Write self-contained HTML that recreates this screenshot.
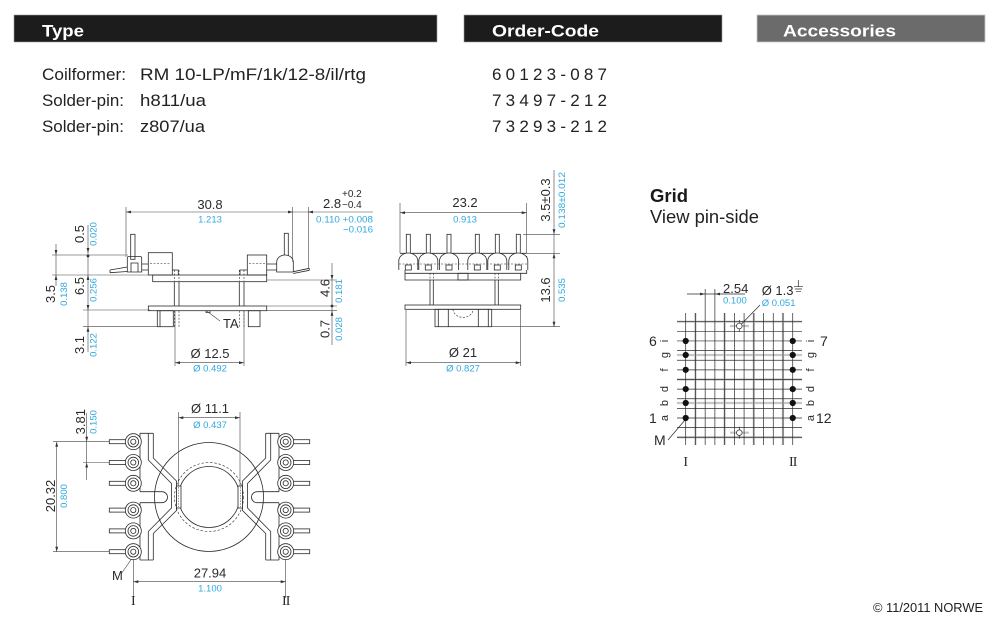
<!DOCTYPE html>
<html><head><meta charset="utf-8"><style>
html,body{margin:0;padding:0;background:#fff;}
svg{display:block;}
</style></head><body>
<svg width="1000" height="630" viewBox="0 0 1000 630" xmlns="http://www.w3.org/2000/svg" font-family="'Liberation Sans', Arial, sans-serif">
<rect width="1000" height="630" fill="#fff"/>

<!-- Header bars -->
<rect x="14" y="15" width="423" height="27" fill="#1c1c1c" stroke="#9a9a9a" stroke-width="0.6"/>
<rect x="464" y="15" width="258" height="27" fill="#1c1c1c" stroke="#9a9a9a" stroke-width="0.6"/>
<rect x="757" y="15" width="228" height="27" fill="#6b6b6b" stroke="#c8c8c8" stroke-width="0.8"/>
<text x="42" y="36.5" font-size="17" font-weight="bold" fill="#fff" textLength="42" lengthAdjust="spacingAndGlyphs">Type</text>
<text x="492" y="36.5" font-size="17" font-weight="bold" fill="#fff" textLength="107" lengthAdjust="spacingAndGlyphs">Order-Code</text>
<text x="783" y="36.5" font-size="17" font-weight="bold" fill="#fff" textLength="113" lengthAdjust="spacingAndGlyphs">Accessories</text>

<!-- Body text -->
<g font-size="17" fill="#222">
<text x="42" y="80" textLength="84" lengthAdjust="spacingAndGlyphs">Coilformer:</text>
<text x="140" y="80" textLength="226" lengthAdjust="spacingAndGlyphs">RM 10-LP/mF/1k/12-8/il/rtg</text>
<text x="42" y="106" textLength="82" lengthAdjust="spacingAndGlyphs">Solder-pin:</text>
<text x="140" y="106" textLength="66" lengthAdjust="spacingAndGlyphs">h811/ua</text>
<text x="42" y="132" textLength="82" lengthAdjust="spacingAndGlyphs">Solder-pin:</text>
<text x="140" y="132" textLength="65" lengthAdjust="spacingAndGlyphs">z807/ua</text>
<text x="492" y="80" textLength="115" lengthAdjust="spacing">60123-087</text>
<text x="492" y="106" textLength="115" lengthAdjust="spacing">73497-212</text>
<text x="492" y="132" textLength="115" lengthAdjust="spacing">73293-212</text>
</g>

<text x="650" y="202" font-size="18" font-weight="bold" fill="#1a1a1a" textLength="38" lengthAdjust="spacingAndGlyphs">Grid</text>
<text x="650" y="223" font-size="18" fill="#222" textLength="109" lengthAdjust="spacingAndGlyphs">View pin-side</text>

<text x="873" y="612" font-size="12.5" fill="#222" textLength="110" lengthAdjust="spacingAndGlyphs">© 11/2011 NORWE</text>

<!-- ================= Drawing 1: side view ================= -->
<g fill="none" stroke="#2a2a2a" stroke-width="0.8">
 <rect x="152.7" y="275" width="114" height="6.7"/>
 <rect x="148.3" y="252.7" width="24" height="22.3"/>
 <path d="M172.3,270 H178.3 V275"/>
 <rect x="247.3" y="255" width="19.4" height="20"/>
 <path d="M247.3,270 H240 V275"/>
 <rect x="130.7" y="234.3" width="4.3" height="25" fill="#fff"/>
 <path d="M127.3,272 V258 Q127.3,256.5 129,256.5 H140 Q141.7,256.5 141.7,258 V272 Z"/>
 <path d="M131,272 V263 H138 V272"/>
 <path d="M141.7,264 H148.3 M141.7,270 H148.3"/>
 <path d="M110,270 L127.3,267 M110,272.7 L127.3,271.5 M110,270 V272.7"/>
 <rect x="284.3" y="233.3" width="4" height="25" fill="#fff"/>
 <path d="M276.7,272 V262 A8.3,7 0 0 1 293.3,262 V272 Z" fill="#fff"/>
 <path d="M266.7,264 H276.7 M266.7,270 H276.7"/>
 <path d="M293.3,271.7 L309.3,268.3 M293.3,273.5 L309.3,270.3 M309.3,268.3 V270.3"/>
 <path d="M174.3,281.7 V306 M179,281.7 V306 M239.3,281.7 V306 M244,281.7 V306"/>
 <rect x="148.3" y="306" width="118.4" height="4.7"/>
 <rect x="157.3" y="310.7" width="16" height="16"/>
 <path d="M160,310.7 V326.7"/>
 <rect x="248.3" y="310.7" width="11.7" height="16"/>
 <path d="M206,310.7 V312.5 H210 V310.7"/>
</g>
<path fill="none" stroke="#2a2a2a" stroke-width="0.6" stroke-dasharray="2 1.5" d="M174.3,270 V281 M179,270 V281 M239.3,270 V281 M244,270 V281 M174.3,310.7 V326.7 M179,310.7 V326.7 M239.3,310.7 V326.7 M244,310.7 V326.7 M150,263.5 H170 M249,263.5 H265"/>

<g fill="none" stroke="#444" stroke-width="0.6">
 <path d="M126,212 H373"/>
 <path d="M126,207 V257 M292.7,207 V262 M308.3,207 V268"/>
 <path d="M52,255 H128" stroke="#999" stroke-width="1"/>
 <path d="M52,275 H152 M83,310 H150 M83,326.7 H157"/>
 <path d="M266.7,280 H337 M266.7,306 H337 M260,310.7 H337"/>
 <path d="M56,244 V286 M88,225 V352 M332,263 V345"/>
 <path d="M175,311 V366 M244,311 V366 M175,362.7 H244"/>
 <path d="M206.7,311 L220,321"/>
</g>
<g fill="#333">
 <polygon points="131,210.6 131,213.4 126,212"/>
 <polygon points="288,210.6 288,213.4 293,212"/>
 <polygon points="313,210.6 313,213.4 308,212"/>
 <polygon points="54.6,250 57.4,250 56,255"/>
 <polygon points="54.6,280 57.4,280 56,275"/>
 <polygon points="86.6,248 89.4,248 88,253"/>
 <circle cx="88" cy="256" r="1.4"/>
 <polygon points="86.6,280 89.4,280 88,275"/>
 <polygon points="86.6,305 89.4,305 88,310"/>
 <polygon points="86.6,331.7 89.4,331.7 88,326.7"/>
 <polygon points="330.6,275 333.4,275 332,280"/>
 <circle cx="332" cy="306" r="1.4"/>
 <polygon points="330.6,315.7 333.4,315.7 332,310.7"/>
 <polygon points="180,361.3 180,364.1 175,362.7"/>
 <polygon points="239,361.3 239,364.1 244,362.7"/>
</g>
<g font-size="13" fill="#2a2a2a">
 <text x="210" y="209" text-anchor="middle">30.8</text>
 <text x="323" y="208">2.8</text>
 <text x="342" y="197" font-size="10">+0.2</text>
 <text x="342" y="208" font-size="10">−0.4</text>
 <text x="210" y="358" text-anchor="middle">Ø 12.5</text>
 <text x="223" y="328">TA</text>
 <text transform="translate(55,294) rotate(-90)" text-anchor="middle">3.5</text>
 <text transform="translate(84,234) rotate(-90)" text-anchor="middle">0.5</text>
 <text transform="translate(84,286) rotate(-90)" text-anchor="middle">6.5</text>
 <text transform="translate(84,345) rotate(-90)" text-anchor="middle">3.1</text>
 <text transform="translate(329.5,288) rotate(-90)" text-anchor="middle">4.6</text>
 <text transform="translate(329.5,329) rotate(-90)" text-anchor="middle">0.7</text>
</g>
<g font-size="9.5" fill="#2fa8e0">
 <text x="210" y="222.5" text-anchor="middle">1.213</text>
 <text x="316" y="222.5" textLength="57" lengthAdjust="spacingAndGlyphs">0.110 +0.008</text>
 <text x="343" y="232.5" textLength="30" lengthAdjust="spacingAndGlyphs">−0.016</text>
 <text x="210" y="371.5" text-anchor="middle">Ø 0.492</text>
 <text transform="translate(67,294) rotate(-90)" text-anchor="middle">0.138</text>
 <text transform="translate(96.5,234) rotate(-90)" text-anchor="middle">0.020</text>
 <text transform="translate(96.5,290) rotate(-90)" text-anchor="middle">0.256</text>
 <text transform="translate(96.5,345) rotate(-90)" text-anchor="middle">0.122</text>
 <text transform="translate(342,291) rotate(-90)" text-anchor="middle">0.181</text>
 <text transform="translate(342,329) rotate(-90)" text-anchor="middle">0.028</text>
</g>

<!-- ================= Drawing 2: front view ================= -->
<g fill="none" stroke="#444" stroke-width="0.6">
 <path d="M400,203 V253 M526.7,203 V253 M400,212.7 H526.7"/>
 <path d="M523,234.3 H560 M526.7,253.3 H560 M491.7,326.7 H560"/>
 <path d="M554,170 V327"/>
 <path d="M406,310 V366 M520.7,310 V366 M406,362.7 H520.7"/>
</g>
<g fill="#333">
 <polygon points="405,211.3 405,214.1 400,212.7"/>
 <polygon points="521.7,211.3 521.7,214.1 526.7,212.7"/>
 <polygon points="552.6,229.3 555.4,229.3 554,234.3"/>
 <polygon points="552.6,258.3 555.4,258.3 554,253.3"/>
 <polygon points="552.6,321.7 555.4,321.7 554,326.7"/>
 <polygon points="411,361.3 411,364.1 406,362.7"/>
 <polygon points="515.7,361.3 515.7,364.1 520.7,362.7"/>
</g>
<g fill="none" stroke="#2a2a2a" stroke-width="0.8">
 <path d="M400,253.3 H526.7"/>
 <path d="M405,256 V280 H520.7 V273.3 H526.7 V256"/>
 <path d="M405,273.3 H520.7"/>
 <rect x="458" y="273.3" width="10" height="6.7"/>
 <g fill="#fff">
  <rect x="406.3" y="234.3" width="4" height="22"/>
  <rect x="426.3" y="234.3" width="4" height="22"/>
  <rect x="447" y="234.3" width="4" height="22"/>
  <rect x="475.3" y="234.3" width="4" height="22"/>
  <rect x="495.3" y="234.3" width="4" height="22"/>
  <rect x="516.3" y="234.3" width="4" height="22"/>
  <path d="M398.8,270 V261 A9.5,8 0 0 1 417.8,261 V270"/>
  <path d="M418.8,270 V261 A9.5,8 0 0 1 437.8,261 V270"/>
  <path d="M439.5,270 V261 A9.5,8 0 0 1 458.5,261 V270"/>
  <path d="M467.8,270 V261 A9.5,8 0 0 1 486.8,261 V270"/>
  <path d="M487.8,270 V261 A9.5,8 0 0 1 506.8,261 V270"/>
  <path d="M508.8,270 V261 A9.5,8 0 0 1 527.8,261 V270"/>
 </g>
 <rect x="405.3" y="265" width="6" height="5"/>
 <rect x="425.3" y="265" width="6" height="5"/>
 <rect x="446" y="265" width="6" height="5"/>
 <rect x="474.3" y="265" width="6" height="5"/>
 <rect x="494.3" y="265" width="6" height="5"/>
 <rect x="515.3" y="265" width="6" height="5"/>
 <path d="M430,280 V305 M433.3,280 V305 M495,280 V305 M498.3,280 V305"/>
 <rect x="405" y="305" width="115.7" height="4.3"/>
 <rect x="435" y="309.3" width="56.7" height="17.4"/>
 <path d="M438.3,309.3 V326.7 M448.3,309.3 V326.7 M478.3,309.3 V326.7 M488.3,309.3 V326.7"/>
</g>
<path fill="none" stroke="#2a2a2a" stroke-width="0.6" stroke-dasharray="2 1.5" d="M399,264 H527 M453,309.3 A10,8 0 0 0 473,309.3 M430,273 V280 M433.3,273 V280 M495,273 V280 M498.3,273 V280"/>
<g font-size="13" fill="#2a2a2a">
 <text x="465" y="207" text-anchor="middle">23.2</text>
 <text x="463" y="357" text-anchor="middle">Ø 21</text>
 <text transform="translate(550,200) rotate(-90)" text-anchor="middle">3.5±0.3</text>
 <text transform="translate(550,290) rotate(-90)" text-anchor="middle">13.6</text>
</g>
<g font-size="9.5" fill="#2fa8e0">
 <text x="465" y="222.5" text-anchor="middle">0.913</text>
 <text x="463" y="371.5" text-anchor="middle">Ø 0.827</text>
 <text transform="translate(565,200) rotate(-90)" text-anchor="middle" textLength="56" lengthAdjust="spacingAndGlyphs">0.138±0.012</text>
 <text transform="translate(565,290) rotate(-90)" text-anchor="middle">0.535</text>
</g>

<!-- ================= Drawing 3: grid ================= -->
<g stroke="#c6c6c6" stroke-width="2.2" fill="none">
 <path d="M677,321.7 H802 M677,355 H802 M677,379.5 H802 M677,403 H802 M677,437.3 H802"/>
 <path d="M695.4,313 V445 M724.6,313 V445 M753.8,313 V445 M783,313 V445"/>
 <path d="M730,326 H749 M730,432.7 H749"/>
</g>
<g stroke="#2a2a2a" stroke-width="0.7" fill="none">
 <path d="M685.7,313V445M695.43,313V445M705.16,313V445M714.89,313V445M724.62,313V445M734.35,313V445M744.08,313V445M753.81,313V445M763.54,313V445M773.27,313V445M783,313V445M792.73,313V445"/>
 <path d="M677,321.7H802M677,331.33H802M677,340.96H802M677,350.59H802M677,360.22H802M677,369.85H802M677,379.48H802M677,389.11H802M677,398.74H802M677,408.37H802M677,418H802M677,427.63H802M677,437.26H802"/>
 <path d="M687,294 H745"/>
 <path d="M705.16,289 V313 M714.89,289 V313"/>
 <path d="M760,305 L741.5,324"/>
 <path d="M668,440 L685,420"/>
 <path d="M739.3,320 V332 M739.3,426.7 V438.7"/>
 <path d="M798.3,280 V286.7 M794,286.7 H803 M795,289 H802 M796,291.3 H801"/>
</g>
<circle cx="739.3" cy="326" r="2.8" fill="#fff" stroke="#2a2a2a" stroke-width="0.7"/>
<circle cx="739.3" cy="432.7" r="2.8" fill="#fff" stroke="#2a2a2a" stroke-width="0.7"/>
<g fill="#333">
 <polygon points="700,292.6 700,295.4 705.16,294"/>
 <polygon points="720,292.6 720,295.4 714.89,294"/>
</g>
<g fill="#111">
 <circle cx="685.7" cy="341" r="3.1"/><circle cx="685.7" cy="355" r="3.1"/><circle cx="685.7" cy="369.85" r="3.1"/>
 <circle cx="685.7" cy="389.1" r="3.1"/><circle cx="685.7" cy="403" r="3.1"/><circle cx="685.7" cy="418" r="3.1"/>
 <circle cx="792.73" cy="341" r="3.1"/><circle cx="792.73" cy="355" r="3.1"/><circle cx="792.73" cy="369.85" r="3.1"/>
 <circle cx="792.73" cy="389.1" r="3.1"/><circle cx="792.73" cy="403" r="3.1"/><circle cx="792.73" cy="418" r="3.1"/>
</g>
<g font-size="13" fill="#2a2a2a">
 <text x="723" y="293">2.54</text>
 <text x="761.7" y="295">Ø 1.3</text>
 <text x="649" y="346" font-size="14">6</text>
 <text x="649" y="423" font-size="14">1</text>
 <text x="820" y="346" font-size="14">7</text>
 <text x="816" y="423" font-size="14">12</text>
 <text x="654" y="445" font-size="14">M</text>
 <text x="685.7" y="466" font-size="14" text-anchor="middle" font-family="'Liberation Serif', serif">I</text>
 <text x="792.7" y="466" font-size="14" text-anchor="middle" font-family="'Liberation Serif', serif" letter-spacing="-1">II</text>
</g>
<g font-size="11" fill="#2a2a2a" text-anchor="middle">
 <text transform="translate(668,341) rotate(-90)">i</text>
 <text transform="translate(668,355) rotate(-90)">g</text>
 <text transform="translate(668,370) rotate(-90)">f</text>
 <text transform="translate(668,389) rotate(-90)">d</text>
 <text transform="translate(668,403) rotate(-90)">b</text>
 <text transform="translate(668,418) rotate(-90)">a</text>
 <text transform="translate(814,341) rotate(-90)">i</text>
 <text transform="translate(814,355) rotate(-90)">g</text>
 <text transform="translate(814,370) rotate(-90)">f</text>
 <text transform="translate(814,389) rotate(-90)">d</text>
 <text transform="translate(814,403) rotate(-90)">b</text>
 <text transform="translate(814,418) rotate(-90)">a</text>
</g>
<g font-size="9.5" fill="#2fa8e0">
 <text x="723" y="303.5">0.100</text>
 <text x="761.7" y="306">Ø 0.051</text>
</g>

<!-- ================= Drawing 4: bottom view ================= -->
<g fill="none" stroke="#444" stroke-width="0.6">
 <path d="M53,441.7 H126 M83,462.5 H126 M53,551.7 H126"/>
 <path d="M56.7,441.7 V551.7"/>
 <path d="M86.7,413 V480"/>
 <path d="M133.3,560 V598 M285.7,560 V598 M133.3,581.7 H285.7"/>
 <path d="M178.3,412 V497 M240,412 V497 M178.3,417.7 H240"/>
 <path d="M121,574 L133,557"/>
</g>
<g fill="#333">
 <polygon points="55.3,446.7 58.1,446.7 56.7,441.7"/>
 <polygon points="55.3,546.7 58.1,546.7 56.7,551.7"/>
 <polygon points="85.3,436.7 88.1,436.7 86.7,441.7"/>
 <polygon points="85.3,467.5 88.1,467.5 86.7,462.5"/>
 <polygon points="138.3,580.3 138.3,583.1 133.3,581.7"/>
 <polygon points="280.7,580.3 280.7,583.1 285.7,581.7"/>
 <polygon points="183.3,416.3 183.3,419.1 178.3,417.7"/>
 <polygon points="235,416.3 235,419.1 240,417.7"/>
</g>
<g fill="none" stroke="#2a2a2a" stroke-width="0.8">
 <circle cx="209" cy="497" r="54.5"/>
 <circle cx="209" cy="497" r="30.5"/>
</g>
<circle cx="209" cy="497" r="34.5" fill="none" stroke="#2a2a2a" stroke-width="0.6" stroke-dasharray="2.5 1.8"/>

<g id="lf">
 <g fill="#fff" stroke="#2a2a2a" stroke-width="0.8">
  <rect x="109.3" y="439.7" width="19" height="4"/>
  <rect x="109.3" y="460.5" width="19" height="4"/>
  <rect x="109.3" y="481.3" width="19" height="4"/>
  <rect x="109.3" y="508.1" width="19" height="4"/>
  <rect x="109.3" y="528.9" width="19" height="4"/>
  <rect x="109.3" y="549.7" width="19" height="4"/>
 </g>
 <g fill="none" stroke="#2a2a2a" stroke-width="0.8">
  <path d="M140,433.3 V491.7 M140,502.7 V560"/>
  <path d="M140,491.7 H162 A5.5,5.5 0 0 1 162,502.7 H140"/>
  <path d="M140,433.3 H153.3 M148.3,433.3 V460 L171.5,483.5 V508 L148.3,531.5 V560 M153.3,433.3 V458 L176.5,481 V510.5 L153.3,533.5 V560 M140,560 H153.3"/>
  <rect x="176.5" y="486" width="4.5" height="22" fill="#fff"/>
 </g>
 <path d="M178.7,487 V507" fill="none" stroke="#2a2a2a" stroke-width="0.5" stroke-dasharray="1.5 1.2"/>
 <g fill="#fff" stroke="#2a2a2a" stroke-width="0.8">
  <circle cx="133.3" cy="441.7" r="8"/><circle cx="133.3" cy="441.7" r="5.3"/><circle cx="133.3" cy="441.7" r="2.6"/>
  <circle cx="133.3" cy="462.5" r="8"/><circle cx="133.3" cy="462.5" r="5.3"/><circle cx="133.3" cy="462.5" r="2.6"/>
  <circle cx="133.3" cy="483.3" r="8"/><circle cx="133.3" cy="483.3" r="5.3"/><circle cx="133.3" cy="483.3" r="2.6"/>
  <circle cx="133.3" cy="510.1" r="8"/><circle cx="133.3" cy="510.1" r="5.3"/><circle cx="133.3" cy="510.1" r="2.6"/>
  <circle cx="133.3" cy="530.9" r="8"/><circle cx="133.3" cy="530.9" r="5.3"/><circle cx="133.3" cy="530.9" r="2.6"/>
  <circle cx="133.3" cy="551.7" r="8"/><circle cx="133.3" cy="551.7" r="5.3"/><circle cx="133.3" cy="551.7" r="2.6"/>
 </g>
</g>
<use href="#lf" transform="matrix(-1,0,0,1,419,0)"/>

<g font-size="13" fill="#2a2a2a">
 <text x="210" y="413" text-anchor="middle">Ø 11.1</text>
 <text x="210" y="577.5" text-anchor="middle">27.94</text>
 <text x="112" y="580">M</text>
 <text transform="translate(85,421.7) rotate(-90)" text-anchor="middle">3.81</text>
 <text transform="translate(55,496) rotate(-90)" text-anchor="middle">20.32</text>
 <text x="133.3" y="605" font-size="14" text-anchor="middle" font-family="'Liberation Serif', serif">I</text>
 <text x="285.7" y="605" font-size="14" text-anchor="middle" font-family="'Liberation Serif', serif" letter-spacing="-1">II</text>
</g>
<g font-size="9.5" fill="#2fa8e0">
 <text x="210" y="428" text-anchor="middle">Ø 0.437</text>
 <text x="210" y="591.5" text-anchor="middle">1.100</text>
 <text transform="translate(96.5,422) rotate(-90)" text-anchor="middle">0.150</text>
 <text transform="translate(67,496) rotate(-90)" text-anchor="middle">0.800</text>
</g>
</svg>
</body></html>
